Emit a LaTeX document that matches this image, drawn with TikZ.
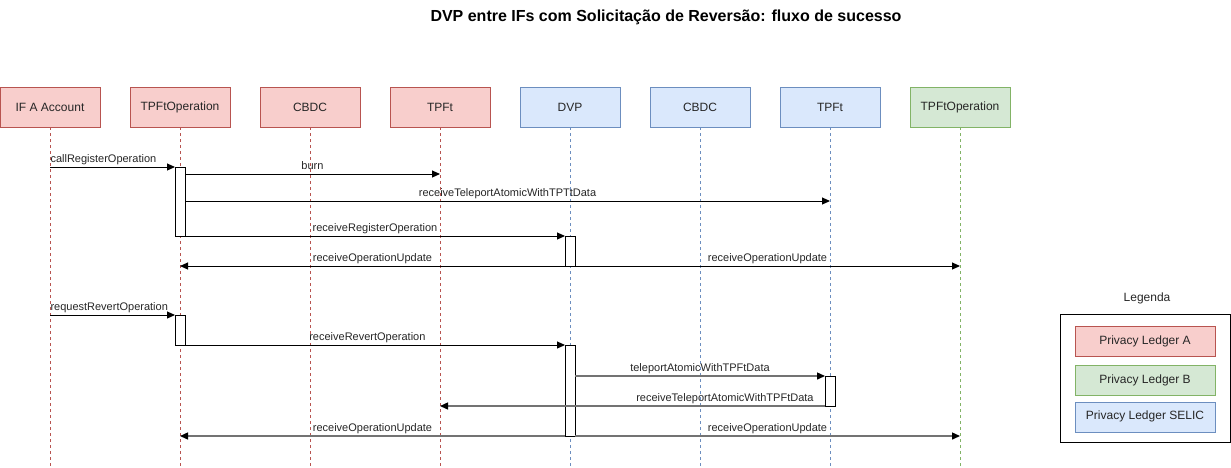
\documentclass[tikz,border=0pt]{standalone}
\usepackage{fontspec}
\setmainfont{Liberation Sans}
\usetikzlibrary{positioning, arrows.meta, calc}
\definecolor{redfill}{HTML}{F8CECC}
\definecolor{redline}{HTML}{B85450}
\definecolor{bluefill}{HTML}{DAE8FC}
\definecolor{blueline}{HTML}{6C8EBF}
\definecolor{greenfill}{HTML}{D5E8D4}
\definecolor{greenline}{HTML}{82B366}
\tikzset{
  part/.style={draw, minimum width=100pt, minimum height=40pt, inner sep=0pt, outer sep=0pt, font=\fontsize{12}{14}\selectfont, text=black!85},
  partA/.style={part, fill=redfill, draw=redline},
  partB/.style={part, fill=greenfill, draw=greenline},
  partS/.style={part, fill=bluefill, draw=blueline},
  life/.style={dash pattern=on 3pt off 3pt, line width=0.8pt},
  act/.style={draw, fill=white, minimum width=10pt, inner sep=0pt, outer sep=0pt, line width=1pt},
  msg/.style={-{Triangle[length=8pt, width=7pt, color=black]}, line width=1pt},
  faint/.style={draw=black!55, line width=1.4pt},
  lbl/.style={font=\fontsize{11}{13}\selectfont, anchor=base, yshift=5pt, inner sep=0pt, text=black!85},
  legitem/.style={draw, minimum width=140pt, minimum height=30pt, inner sep=0pt, font=\fontsize{12}{14}\selectfont, text=black!85}
}
\begin{document}
\begin{tikzpicture}[x=1pt, y=1pt, node distance=30pt]
\useasboundingbox (0,0) rectangle (1231,-467);
\node[font=\bfseries\fontsize{16}{19}\selectfont] (title) at (666,-17) {DVP entre IFs com Solicitação de Reversão: fluxo de sucesso};
% participants
\node[partA] (ifa) at (50,-107) {IF A Account};
\node[partA, right=of ifa] (tpoa) {TPFtOperation};
\node[partA, right=of tpoa] (cbdca) {CBDC};
\node[partA, right=of cbdca] (tpfta) {TPFt};
\node[partS, right=of tpfta] (dvp) {DVP};
\node[partS, right=of dvp] (cbdcs) {CBDC};
\node[partS, right=of cbdcs] (tpfts) {TPFt};
\node[partB, right=of tpfts] (tpob) {TPFtOperation};
\coordinate (bot) at (0,-467);
\foreach \p/\c in {ifa/redline, tpoa/redline, cbdca/redline, tpfta/redline, dvp/blueline, cbdcs/blueline, tpfts/blueline, tpob/greenline}
  \draw[life, \c] (\p.south) -- (\p.south |- bot);
% activations
\node[act, minimum height=69pt, below=40pt of tpoa] (act1) {};
\node[act, minimum height=30pt, below=109pt of dvp] (act2) {};
\node[act, minimum height=30pt, below=188pt of tpoa] (act3) {};
\node[act, minimum height=91pt, below=218pt of dvp] (act4) {};
\node[act, minimum height=30pt, below=249pt of tpfts] (act5) {};
% register
\draw[msg] (ifa |- act1.north) -- node[lbl, pos=0, anchor=base west] {callRegisterOperation} (act1.north west);
\coordinate (m2) at ($(act1.north east)+(0,-7)$);
\coordinate (m3) at ($(act1.north east)+(0,-34)$);
\draw[msg] (m2) -- node[lbl, midway] {burn} (m2 -| tpfta);
\draw[msg] (m3) -- node[lbl, midway] {receiveTeleportAtomicWithTPTtData} (m3 -| tpfts);
\draw[msg] (act1.south east) -- node[lbl, midway] {receiveRegisterOperation} (act2.north west);
\draw[msg] (act2.south west) -- node[lbl, midway] {receiveOperationUpdate} (tpoa |- act2.south);
\draw[msg] (act2.south east) -- node[lbl, midway] {receiveOperationUpdate} (tpob |- act2.south);
% revert
\draw[msg] (ifa |- act3.north) -- node[lbl, pos=0, anchor=base west] {requestRevertOperation} (act3.north west);
\draw[msg] (act3.south east) -- node[lbl, pos=0.48] {receiveRevertOperation} (act4.north west);
\draw[msg, faint] (act4.east |- act5.north) -- node[lbl, midway] {teleportAtomicWithTPFtData} (act5.north west);
\draw[msg, faint] (act5.south west) -- node[lbl, pos=0.26] {receiveTeleportAtomicWithTPFtData} (tpfta |- act5.south);
\draw[msg, faint] (act4.south west) -- node[lbl, midway] {receiveOperationUpdate} (tpoa |- act4.south);
\draw[msg, faint] (act4.south east) -- node[lbl, midway] {receiveOperationUpdate} (tpob |- act4.south);
% legend
\node[font=\fontsize{12}{14}\selectfont, text=black!85] (legtitle) at (1147,-298) {Legenda};
\node[draw, line width=1pt, minimum width=170pt, minimum height=128pt] (legbox) at (1145,-378) {};
\node[legitem, fill=redfill, draw=redline] (legA) at (1145,-341) {Privacy Ledger A};
\node[legitem, fill=greenfill, draw=greenline, below=9pt of legA] (legB) {Privacy Ledger B};
\node[legitem, fill=bluefill, draw=blueline, below=6pt of legB] (legS) {Privacy Ledger SELIC};
\end{tikzpicture}
\end{document}
